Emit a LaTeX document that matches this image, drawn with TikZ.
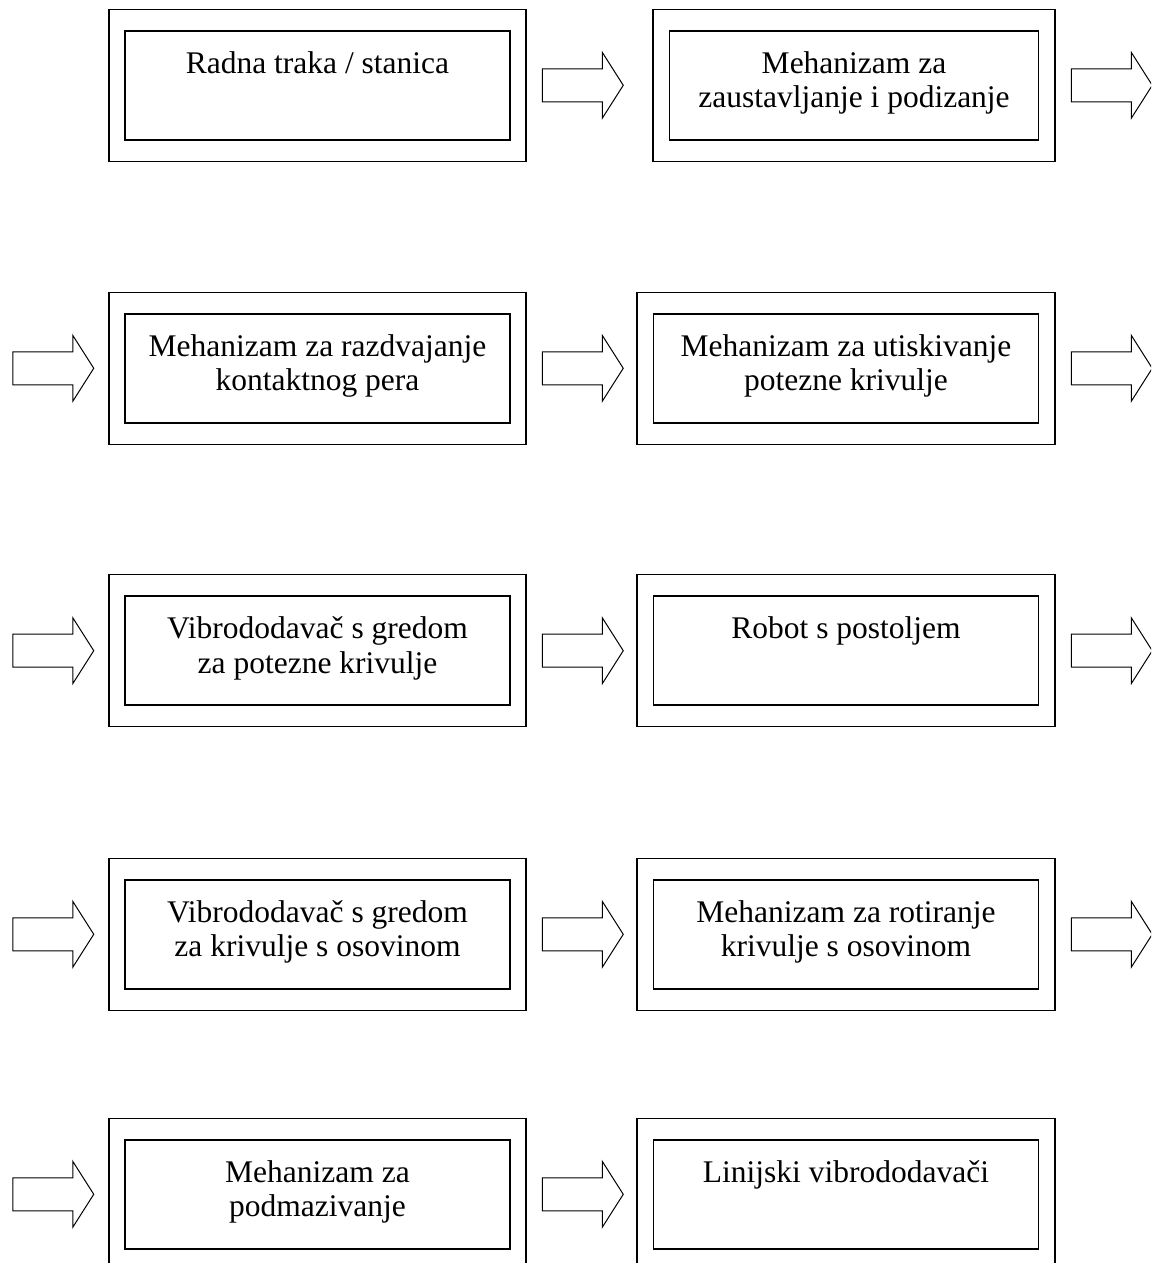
\documentclass[tikz,border=0pt]{standalone}
\usepackage{fontspec}
\setmainfont{Liberation Serif}
\usetikzlibrary{calc}
\tikzset{
  outerbox/.style={draw, line width=1.5pt, minimum width=417pt, minimum height=152pt, inner sep=0pt},
  innerbox/.style={draw, line width=1.5pt, minimum width=385pt, minimum height=109pt, inner sep=0pt},
  boxtext/.style={anchor=north, inner sep=0pt, align=center, font=\fontsize{31.5}{34.5}\selectfont},
  blockarrow/.style={draw, line width=1pt}
}
\newcommand{\bigarrow}[1]{\draw[blockarrow] #1 -- ++(0,-16.5) -- ++(60,0) -- ++(0,-16.5) -- ++(21,33) -- ++(-21,33) -- ++(0,-16.5) -- ++(-60,0) -- cycle;}

\begin{document}
\begin{tikzpicture}[x=1pt, y=-1pt]
\useasboundingbox (0,0) rectangle (1151,1263);
\clip (0,0) rectangle (1151,1263);
% red 1
\node[outerbox] (radna) at (317.5,85.3) {};
\node[innerbox] (radna-in) at (radna.center) {};
\node[boxtext] (radna-t) at ([yshift=-21pt]radna-in.north) {Radna traka / stanica};
\node[outerbox, minimum width=402pt] (zaust) at (854,85.3) {};
\node[innerbox, minimum width=369pt] (zaust-in) at (zaust.center) {};
\node[boxtext] (zaust-t) at ([yshift=-21pt]zaust-in.north) {Mehanizam za\\zaustavljanje i podizanje};
\bigarrow{([xshift=15.5pt]radna.east)}
\bigarrow{([xshift=15.5pt]zaust.east)}
% red 2
\node[outerbox] (razd) at (317.5,368.3) {};
\node[innerbox] (razd-in) at (razd.center) {};
\node[boxtext] (razd-t) at ([yshift=-21pt]razd-in.north) {Mehanizam za razdvajanje\\kontaktnog pera};
\node[outerbox, minimum width=418pt] (utisk) at (846,368.3) {};
\node[innerbox] (utisk-in) at (utisk.center) {};
\node[boxtext] (utisk-t) at ([yshift=-21pt]utisk-in.north) {Mehanizam za utiskivanje\\potezne krivulje};
\bigarrow{([xshift=-95.5pt]razd.west)}
\bigarrow{([xshift=15.5pt]razd.east)}
\bigarrow{([xshift=15.5pt]utisk.east)}
% red 3
\node[outerbox] (vibro1) at (317.5,650.7) {};
\node[innerbox] (vibro1-in) at (vibro1.center) {};
\node[boxtext] (vibro1-t) at ([yshift=-21pt]vibro1-in.north) {Vibrododavač s gredom\\za potezne krivulje};
\node[outerbox, minimum width=418pt] (robot) at (846,650.7) {};
\node[innerbox] (robot-in) at (robot.center) {};
\node[boxtext] (robot-t) at ([yshift=-21pt]robot-in.north) {Robot s postoljem};
\bigarrow{([xshift=-95.5pt]vibro1.west)}
\bigarrow{([xshift=15.5pt]vibro1.east)}
\bigarrow{([xshift=15.5pt]robot.east)}
% red 4
\node[outerbox] (vibro2) at (317.5,934.3) {};
\node[innerbox] (vibro2-in) at (vibro2.center) {};
\node[boxtext] (vibro2-t) at ([yshift=-21pt]vibro2-in.north) {Vibrododavač s gredom\\za krivulje s osovinom};
\node[outerbox, minimum width=418pt] (rotir) at (846,934.3) {};
\node[innerbox] (rotir-in) at (rotir.center) {};
\node[boxtext] (rotir-t) at ([yshift=-21pt]rotir-in.north) {Mehanizam za rotiranje\\krivulje s osovinom};
\bigarrow{([xshift=-95.5pt]vibro2.west)}
\bigarrow{([xshift=15.5pt]vibro2.east)}
\bigarrow{([xshift=15.5pt]rotir.east)}
% red 5
\node[outerbox] (podmaz) at (317.5,1194.3) {};
\node[innerbox] (podmaz-in) at (podmaz.center) {};
\node[boxtext] (podmaz-t) at ([yshift=-21pt]podmaz-in.north) {Mehanizam za\\podmazivanje};
\node[outerbox, minimum width=418pt] (linvib) at (846,1194.3) {};
\node[innerbox] (linvib-in) at (linvib.center) {};
\node[boxtext] (linvib-t) at ([yshift=-21pt]linvib-in.north) {Linijski vibrododavači};
\bigarrow{([xshift=-95.5pt]podmaz.west)}
\bigarrow{([xshift=15.5pt]podmaz.east)}
\end{tikzpicture}
\end{document}
